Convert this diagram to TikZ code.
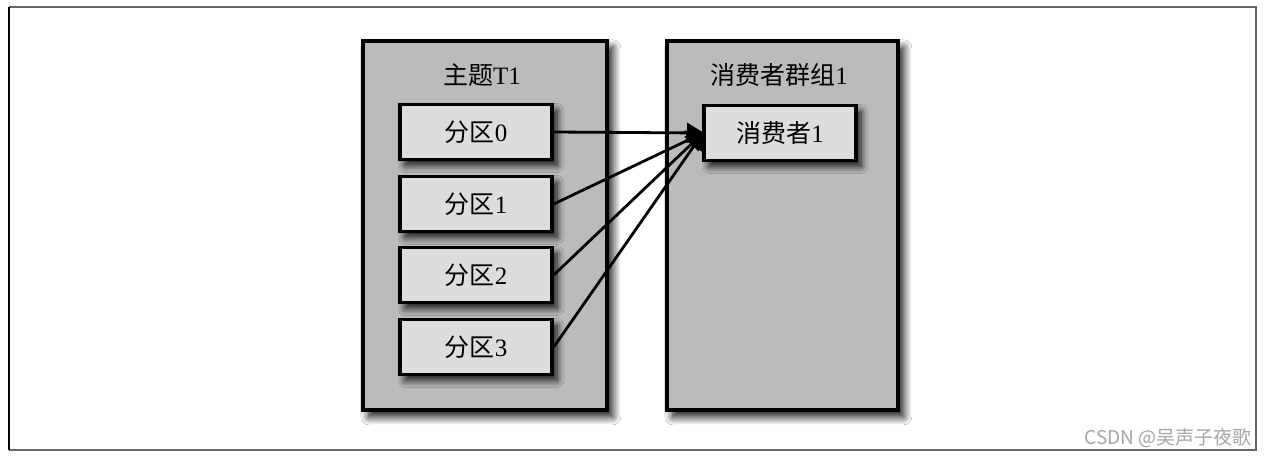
\documentclass[tikz,border=0pt]{standalone}
\usepackage{fontspec}
\setmainfont{Liberation Serif}
\newfontfamily\cjk{Noto Sans CJK SC}
\usetikzlibrary{arrows.meta,shadows.blur}
\definecolor{outerfill}{HTML}{BBBBBB}
\definecolor{innerfill}{HTML}{DDDDDD}
\tikzset{
  bigbox/.style={draw=black, line width=3.5pt, fill=outerfill,
    blur shadow={shadow xshift=6pt, shadow yshift=-7pt, shadow blur steps=14, shadow blur radius=8pt, shadow opacity=95}},
  smallbox/.style={draw=black, line width=3.5pt, fill=innerfill, minimum width=152pt, minimum height=55pt,
    inner sep=0pt, font=\fontsize{25}{28}\selectfont,
    blur shadow={shadow xshift=5pt, shadow yshift=-6pt, shadow blur steps=12, shadow blur radius=7pt, shadow opacity=90}},
  lbl/.style={font=\fontsize{25}{28}\selectfont},
  conn/.style={line width=2.8pt, -{Triangle[length=17pt,width=20pt]}, shorten >=-1pt}
}
\begin{document}
\begin{tikzpicture}[x=1pt,y=-1pt]
\useasboundingbox (0,0) rectangle (1268,458);
\fill[white] (0,0) rectangle (1268,458);
\draw[draw=gray!80!black, line width=1.5pt] (9,7) -- (1256,7) -- (1256,450) -- (9,450);
\draw[draw=black, line width=1.5pt] (9,7) -- (9,450);
\node[bigbox, minimum width=244pt, minimum height=369pt, anchor=north west, inner sep=0pt] (topic) at (361,39) {};
\node[bigbox, minimum width=231pt, minimum height=369pt, anchor=north west, inner sep=0pt] (group) at (665,39) {};
\node[lbl] (topiclbl) at (482,75) {{\cjk 主题}T1};
\node[lbl] (grouplbl) at (779,75) {{\cjk 消费者群组}1};
\node[smallbox] (p0) at (476,132) {{\cjk 分区}0};
\node[smallbox] (p1) at (476,204) {{\cjk 分区}1};
\node[smallbox] (p2) at (476,275) {{\cjk 分区}2};
\node[smallbox] (p3) at (476,347) {{\cjk 分区}3};
\node[smallbox] (c1) at (780,133) {{\cjk 消费者}1};
\coordinate (tip) at (703,133);
\foreach \p in {p0,p1,p2,p3} {
  \draw[conn] (\p.east) -- (tip);
}
\node[anchor=south east, inner sep=0pt, text=gray!70, font=\cjk\fontsize{19}{21}\selectfont] (wm) at (1252,448) {CSDN @吴声子夜歌};
\end{tikzpicture}
\end{document}
